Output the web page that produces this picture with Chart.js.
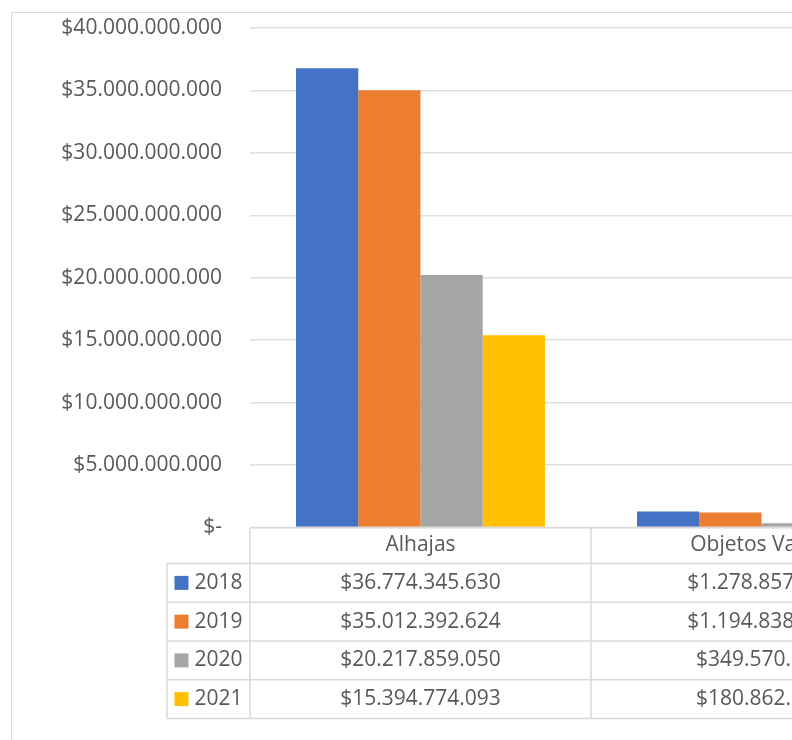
<!DOCTYPE html>
<html>
<head>
<meta charset="utf-8">
<script src="https://cdn.jsdelivr.net/npm/chart.js@4/dist/chart.umd.min.js"></script>
<style>
  html, body { margin: 0; padding: 0; background: #fff; overflow: hidden; width: 792px; height: 740px; }
  #wrap { position: absolute; left: 0; top: 0; width: 960px; height: 740px; }
</style>
</head>
<body>
<div id="wrap"><canvas id="c" width="960" height="740"></canvas></div>
<script>
// Categories and yearly amounts (pesos)
const categories = ['Alhajas', 'Objetos Varios'];
const years = ['2018', '2019', '2020', '2021'];
const values2018 = [36774345630, 1278857000];
const values2019 = [35012392624, 1194838000];
const values2020 = [20217859050, 349570000];
const values2021 = [15394774093, 180862000];
const seriesColors = ['#4472C4', '#ED7D31', '#A5A5A5', '#FFC000'];
const yMax = 40000000000;
const yStep = 5000000000;

const series = [values2018, values2019, values2020, values2021];
const FONT = 'Open Sans';
const FONT_SIZE = 21;
const TEXT = '#595959';
const LINE = '#d9d9d9';

function peso(v) {
  if (v === 0) return '$-';
  return '$' + Math.round(v).toString().replace(/\B(?=(\d{3})+(?!\d))/g, '.');
}

// Outer frame of the chart object
const framePlugin = {
  id: 'frame',
  beforeDraw(chart) {
    const ctx = chart.ctx;
    ctx.save();
    ctx.strokeStyle = LINE;
    ctx.lineWidth = 1;
    ctx.strokeRect(11.5, 12.5, 2000, 2000);
    ctx.restore();
  }
};

// Data table under the plot, aligned with the category columns
const tablePlugin = {
  id: 'dataTable',
  afterDraw(chart) {
    const { ctx, chartArea: a } = chart;
    const n = categories.length;
    const colW = (a.right - a.left) / n;
    const top = a.bottom;
    const headH = 36;
    const rowH = 38.75;
    const keyLeft = 167;
    const bottom = top + headH + rowH * years.length;

    ctx.save();
    ctx.strokeStyle = LINE;
    ctx.lineWidth = 1.5;
    const line = (x1, y1, x2, y2) => { ctx.beginPath(); ctx.moveTo(x1, y1); ctx.lineTo(x2, y2); ctx.stroke(); };

    line(a.left, top, a.right, top);
    for (let r = 0; r <= years.length; r++) {
      const y = top + headH + r * rowH;
      line(keyLeft, y, a.right, y);
    }
    for (let i = 0; i <= n; i++) {
      const xv = a.left + i * colW;
      line(xv, top, xv, bottom);
    }
    line(keyLeft, top + headH, keyLeft, bottom);

    ctx.fillStyle = TEXT;
    ctx.font = FONT_SIZE + 'px "' + FONT + '"';
    ctx.textBaseline = 'middle';
    ctx.textAlign = 'center';
    categories.forEach((c, i) => {
      const cx = chart.scales.x.getPixelForValue(i);
      ctx.fillText(c, cx, top + headH / 2);
      series.forEach((vals, r) => {
        ctx.fillStyle = TEXT;
        ctx.fillText(peso(vals[i]), cx, top + headH + rowH * (r + 0.5));
      });
    });

    // Legend keys in the row headers
    const sq = 14;
    years.forEach((yr, r) => {
      const cy = top + headH + rowH * (r + 0.5);
      const tw = ctx.measureText(yr).width;
      const total = sq + 6 + tw;
      const x0 = (keyLeft + a.left) / 2 - total / 2;
      ctx.fillStyle = seriesColors[r];
      ctx.fillRect(x0, cy - sq / 2, sq, sq);
      ctx.fillStyle = TEXT;
      ctx.textAlign = 'left';
      ctx.fillText(yr, x0 + sq + 6, cy);
    });
    ctx.restore();
  }
};

new Chart(document.getElementById('c'), {
  type: 'bar',
  data: {
    labels: categories,
    datasets: years.map((yr, i) => ({
      label: yr,
      data: series[i],
      backgroundColor: seriesColors[i],
      borderWidth: 0,
      categoryPercentage: 0.73,
      barPercentage: 1.0
    }))
  },
  options: {
    responsive: false,
    animation: false,
    layout: { padding: { left: 0, top: 28, right: 28, bottom: 20 } },
    plugins: { legend: { display: false }, tooltip: { enabled: false } },
    scales: {
      x: {
        grid: { display: false },
        border: { display: false },
        ticks: { display: false },
        afterFit(s) { s.height = 192.5; }
      },
      y: {
        min: 0,
        max: yMax,
        ticks: {
          stepSize: yStep,
          callback: (v) => peso(v),
          color: TEXT,
          font: { family: FONT, size: FONT_SIZE },
          padding: 28
        },
        grid: { color: '#e0e0e0', lineWidth: 1.5, drawTicks: false },
        border: { display: false },
        afterFit(s) {
          s.width = 250;
          // the label gap is horizontal only; keep it out of the vertical margins
          s.paddingTop = 13;
          s.paddingBottom = 13;
        }
      }
    }
  },
  plugins: [framePlugin, tablePlugin]
});
</script>
</body>
</html>
